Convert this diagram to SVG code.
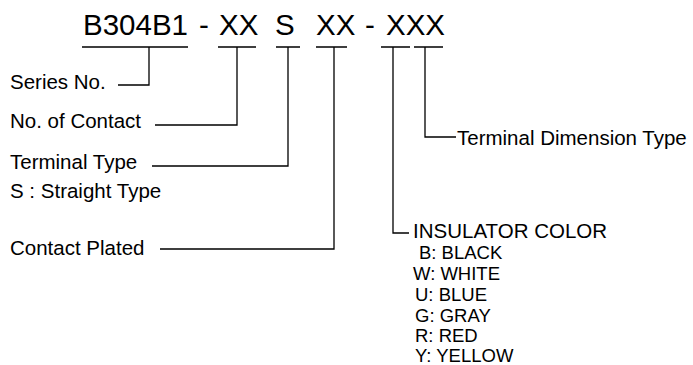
<svg xmlns="http://www.w3.org/2000/svg" width="693" height="365" viewBox="0 0 693 365">
<style>
text{font-family:"Liberation Sans",Arial,sans-serif;fill:#000}
.t{font-size:29.5px}
.l{font-size:20.5px}
.s{font-size:18.5px}
.c{fill:none;stroke:#000;stroke-width:1.3}
</style>
<rect width="693" height="365" fill="#fff"/>
<g id="title">
<text class="t" x="83" y="35">B304B1</text>
<text class="t" x="199" y="35">-</text>
<text class="t" x="219" y="35">XX</text>
<text class="t" x="275" y="35">S</text>
<text class="t" x="316" y="35">XX</text>
<text class="t" x="365" y="35">-</text>
<text class="t" x="386" y="35">XXX</text>
</g>
<g id="series"><text class="l" x="10" y="89">Series No.</text></g>
<g id="contact"><text class="l" x="10" y="128">No. of Contact</text></g>
<g id="terminal"><text class="l" x="10" y="169">Terminal Type</text><text class="l" x="10" y="198">S : Straight Type</text></g>
<g id="plated"><text class="l" x="10" y="255">Contact Plated</text></g>
<g id="dimension"><text class="l" x="457" y="145">Terminal Dimension Type</text></g>
<g id="color">
<text class="l" x="413" y="238">INSULATOR COLOR</text>
<text class="s" x="419" y="259">B: BLACK</text>
<text class="s" x="413" y="280">W: WHITE</text>
<text class="s" x="415" y="301">U: BLUE</text>
<text class="s" x="415" y="322">G: GRAY</text>
<text class="s" x="415" y="342">R: RED</text>
<text class="s" x="415" y="362">Y: YELLOW</text>
</g>
<g id="connectors" class="c">
<path d="M82 47H188M149 47V85H118"/>
<path d="M218 47H256M237 47V125H155"/>
<path d="M276 47H300M288 47V166H152"/>
<path d="M316 47H347M334 47V249H160"/>
<path d="M381 47H410M393 47V233H409"/>
<path d="M414 47H443M425 47V137H456"/>
</g>
</svg>
